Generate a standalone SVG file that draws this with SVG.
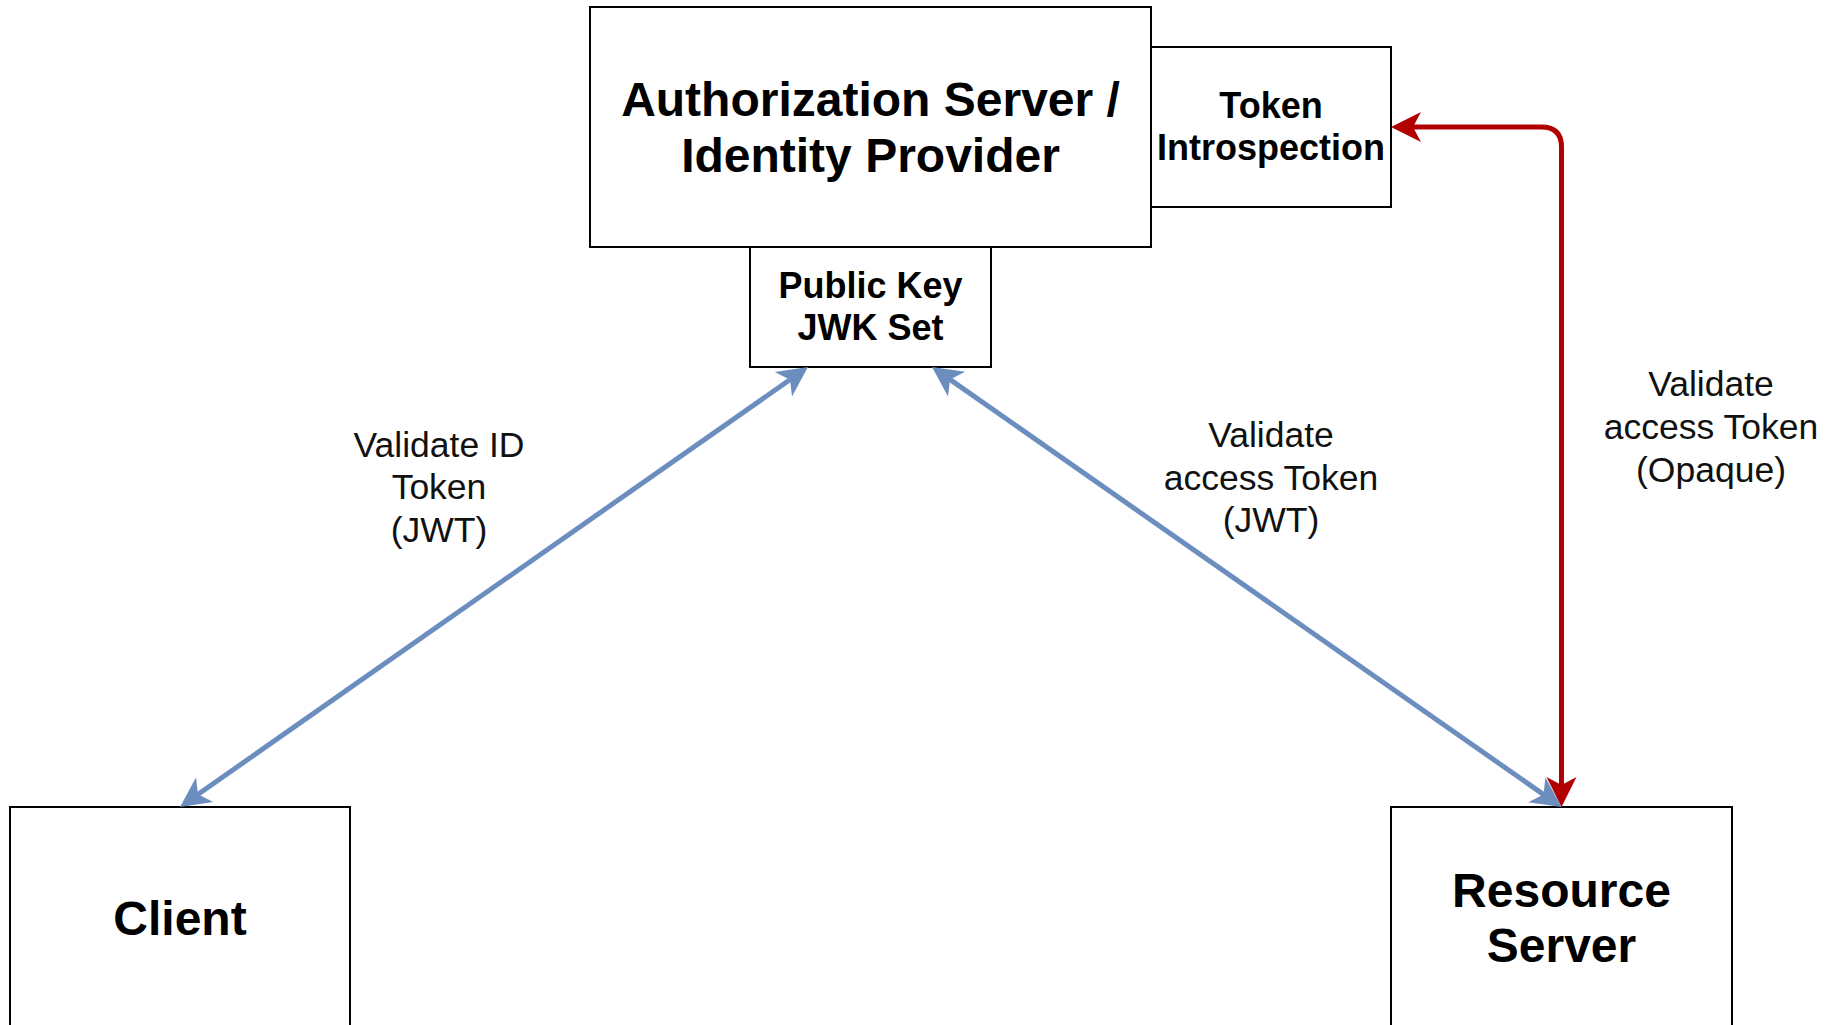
<svg xmlns="http://www.w3.org/2000/svg" width="1841" height="1025" viewBox="0 0 1841 1025">
  <style>
    .box { fill: #ffffff; stroke: #000000; stroke-width: 2; }
    .title { font-family: "Liberation Sans", Arial, Helvetica, sans-serif; font-weight: bold; font-size: 48px; fill: #000000; text-anchor: middle; }
    .sub { font-family: "Liberation Sans", Arial, Helvetica, sans-serif; font-weight: bold; font-size: 36px; fill: #000000; text-anchor: middle; }
    .label { font-family: "Liberation Sans", Arial, Helvetica, sans-serif; font-size: 35.5px; fill: #111111; text-anchor: middle; }
    .blue { fill: none; stroke: #6C8EBF; stroke-width: 5; }
    .red { fill: none; stroke: #B20000; stroke-width: 5; }
  </style>
  <defs>
    <!-- classic notched arrowheads; tip sits 20px past the path end -->
    <marker id="arrowBlue" viewBox="-12 -16 34 32" markerWidth="34" markerHeight="32" refX="0" refY="0" markerUnits="userSpaceOnUse" orient="auto-start-reverse">
      <path d="M20,0 L-10,-15 L-2,0 L-10,15 Z" fill="#6C8EBF"/>
    </marker>
    <marker id="arrowRed" viewBox="-12 -16 34 32" markerWidth="34" markerHeight="32" refX="0" refY="0" markerUnits="userSpaceOnUse" orient="auto-start-reverse">
      <path d="M20,0 L-10,-15 L-2,0 L-10,15 Z" fill="#B20000"/>
    </marker>
  </defs>

  <g id="auth-server">
    <rect class="box" x="590" y="7" width="561" height="240"/>
    <text class="title" x="870.5" y="116">Authorization Server /</text>
    <text class="title" x="870.5" y="172">Identity Provider</text>
  </g>

  <g id="token-introspection">
    <rect class="box" x="1151" y="47" width="240" height="160"/>
    <text class="sub" x="1271" y="118">Token</text>
    <text class="sub" x="1271" y="160">Introspection</text>
  </g>

  <g id="public-key">
    <rect class="box" x="750" y="247" width="241" height="120"/>
    <text class="sub" x="870.5" y="298">Public Key</text>
    <text class="sub" x="870.5" y="340">JWK Set</text>
  </g>

  <g id="client">
    <rect class="box" x="10" y="807" width="340" height="222"/>
    <text class="title" x="180" y="935">Client</text>
  </g>

  <g id="resource-server">
    <rect class="box" x="1391" y="807" width="341" height="222"/>
    <text class="title" x="1561.5" y="907">Resource</text>
    <text class="title" x="1561.5" y="962">Server</text>
  </g>

  <g id="connectors">
    <!-- Client <-> JWK Set -->
    <path class="blue" d="M196.4,795.5 L791.6,378.5" marker-start="url(#arrowBlue)" marker-end="url(#arrowBlue)"/>
    <!-- JWK Set <-> Resource Server -->
    <path class="blue" d="M948.4,378.4 L1545.1,795.6" marker-start="url(#arrowBlue)" marker-end="url(#arrowBlue)"/>
    <!-- Resource Server <-> Token Introspection -->
    <path class="red" d="M1561.5,787 V147 Q1561.5,127 1541.5,127 H1411" marker-start="url(#arrowRed)" marker-end="url(#arrowRed)"/>

    <g id="connector-labels">
      <text class="label" x="439" y="457">Validate ID</text>
      <text class="label" x="439" y="499">Token</text>
      <text class="label" x="439" y="542">(JWT)</text>

      <text class="label" x="1271" y="447">Validate</text>
      <text class="label" x="1271" y="490">access Token</text>
      <text class="label" x="1271" y="532">(JWT)</text>

      <text class="label" x="1711" y="396">Validate</text>
      <text class="label" x="1711" y="439">access Token</text>
      <text class="label" x="1711" y="482">(Opaque)</text>
    </g>
  </g>
</svg>
